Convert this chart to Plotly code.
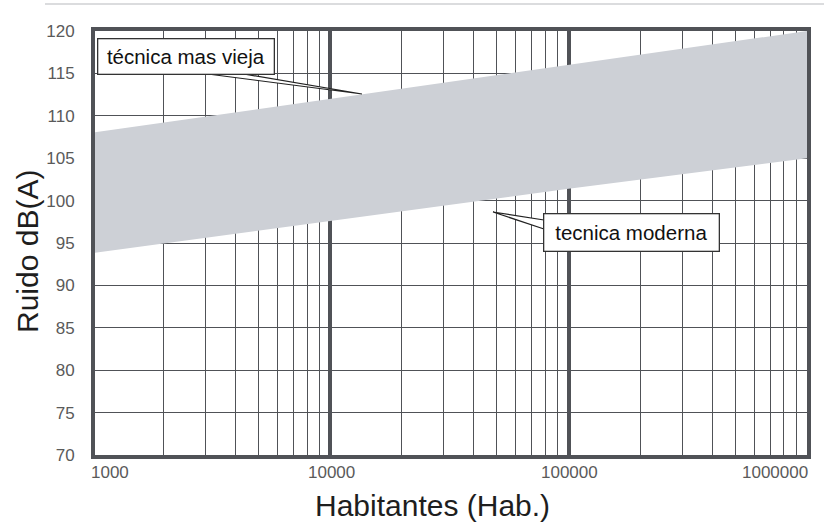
import math
import plotly.graph_objects as go

# Inhabitants (log scale) and noise level band limits in dB(A)
habitantes = [1000, 10000, 100000, 1000000]
ruido_tecnica_vieja = [108.0, 112.0, 116.0, 120.0]
ruido_tecnica_moderna = [93.8, 97.6, 101.4, 105.0]

x_tick_vals = [1000, 10000, 100000, 1000000]
x_tick_text = ["1000", "10000", "100000", "1000000"]
x_tick_anchor = ["left", "center", "center", "right"]
y_tick_vals = [70, 75, 80, 85, 90, 95, 100, 105, 110, 115, 120]

# minor grid at 2..9 times each decade
x_minor_vals = [m * d for d in x_tick_vals[:-1] for m in range(2, 10)]

FONT = "Arial, Liberation Sans, sans-serif"
GRID = "#505257"
BAND = "#cdd0d6"

W, H = 824, 524
L, R, T, B = 95, 807, 31, 455  # plot area in pixels
X_RANGE = [3.014, 6.0]         # the frame starts just right of 1000


def px(x):
    return (x - L) / (R - L)


def py(y):
    return (B - y) / (B - T)


def x_paper(v):
    return (math.log10(v) - X_RANGE[0]) / (X_RANGE[1] - X_RANGE[0])


fig = go.Figure()
fig.add_trace(go.Scatter(
    x=habitantes, y=ruido_tecnica_moderna, mode="lines",
    line=dict(width=0, color=BAND), hoverinfo="skip", showlegend=False))
fig.add_trace(go.Scatter(
    x=habitantes, y=ruido_tecnica_vieja, mode="lines", fill="tonexty",
    fillcolor=BAND, line=dict(width=0, color=BAND), hoverinfo="skip",
    showlegend=False))

fig.update_xaxes(
    type="log", range=X_RANGE, tickvals=x_tick_vals, showticklabels=False, ticks="",
    showgrid=True, gridcolor=GRID, gridwidth=4,
    minor=dict(tickvals=x_minor_vals, showgrid=True, gridcolor=GRID,
               gridwidth=1.3, ticks=""),
    showline=True, linecolor=GRID, linewidth=4, mirror=True,
    layer="above traces", zeroline=False)
fig.update_yaxes(
    range=[70, 120], tickvals=y_tick_vals, ticks="",
    tickfont=dict(family=FONT, size=17, color="#5a5a5a"),
    ticklabelstandoff=13,
    showgrid=True, gridcolor=GRID, gridwidth=1.3,
    showline=True, linecolor=GRID, linewidth=4, mirror=True,
    layer="above traces", zeroline=False)

annotations = []
for v, t, a in zip(x_tick_vals, x_tick_text, x_tick_anchor):
    shift = {"left": -3, "center": 1, "right": 3}[a]
    annotations.append(dict(
        x=x_paper(v), xref="paper", y=0, yref="paper",
        text=t, showarrow=False, xanchor=a, yanchor="top", yshift=-6,
        xshift=shift, font=dict(family=FONT, size=17, color="#5a5a5a")))

# axis titles
annotations.append(dict(
    x=px(432), xref="paper", y=py(505), yref="paper", text="Habitantes (Hab.)",
    showarrow=False, xanchor="center", yanchor="middle",
    font=dict(family=FONT, size=30, color="#1e1e1e")))
annotations.append(dict(
    x=px(27), xref="paper", y=py(252), yref="paper", text="Ruido dB(A)",
    showarrow=False, textangle=-90, xanchor="center", yanchor="middle",
    font=dict(family=FONT, size=30, color="#1e1e1e")))

# callout boxes
annotations.append(dict(
    x=px(185.5), xref="paper", y=py(56), yref="paper", text="técnica mas vieja",
    showarrow=False, xanchor="center", yanchor="middle", width=173, height=32,
    bgcolor="white", bordercolor="#333333", borderwidth=1.3, borderpad=1,
    font=dict(family=FONT, size=20.5, color="#111111")))
annotations.append(dict(
    x=px(631), xref="paper", y=py(232), yref="paper", text="tecnica moderna",
    showarrow=False, xanchor="center", yanchor="middle", width=172, height=34,
    bgcolor="white", bordercolor="#333333", borderwidth=1.3, borderpad=1,
    font=dict(family=FONT, size=20.5, color="#111111")))

shapes = [
    # callout tails
    dict(type="path", xref="paper", yref="paper",
         path=f"M {px(200)},{py(73)} L {px(362)},{py(94)} L {px(238)},{py(73)}",
         fillcolor="white", line=dict(color="#222222", width=1.2), layer="above"),
    dict(type="path", xref="paper", yref="paper",
         path=f"M {px(544)},{py(220)} L {px(493)},{py(212)} L {px(544)},{py(229)}",
         fillcolor="white", line=dict(color="#222222", width=1.2), layer="above"),
    # thin rule across the top of the page
    dict(type="line", xref="paper", yref="paper",
         x0=px(45), x1=px(824), y0=py(4), y1=py(4),
         line=dict(color="#b8babd", width=1.2)),
]

fig.update_layout(
    width=W, height=H,
    margin=dict(l=L, r=W - R, t=T, b=H - B),
    paper_bgcolor="white", plot_bgcolor="white",
    showlegend=False,
    annotations=annotations, shapes=shapes,
)

fig.write_html("out.html")
